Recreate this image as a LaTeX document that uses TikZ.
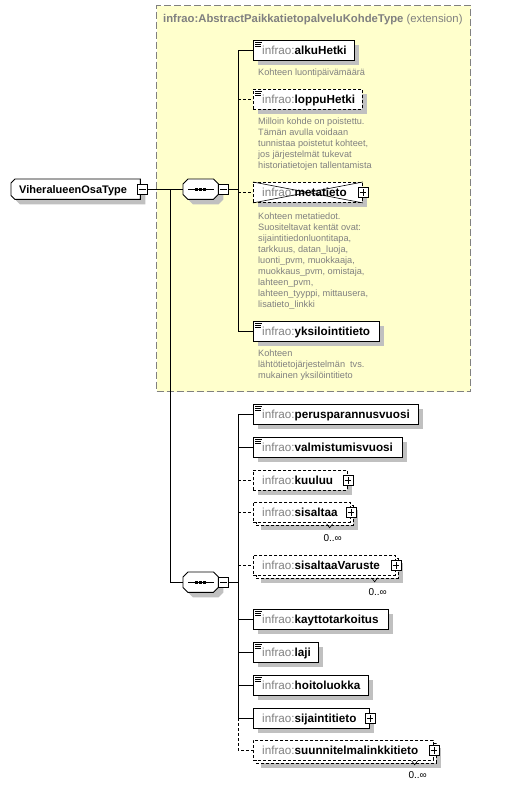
\documentclass[tikz,border=0pt]{standalone}
\usepackage{fontspec}
\setmainfont{Liberation Sans}
\usetikzlibrary{shadows,calc}
\definecolor{yel}{RGB}{255,255,204}
\definecolor{shg}{RGB}{192,192,192}
\definecolor{gtx}{RGB}{128,128,128}
\newcommand\pfx[1]{{\color{gtx}#1}}
\newcommand\nmx[1]{\textbf{#1}}
\newcommand\octpath[2]{([xshift=#2]#1.north west) -- ([xshift=-#2]#1.north east) -- ([yshift=-#2]#1.north east) -- ([yshift=#2]#1.south east) -- ([xshift=-#2]#1.south east) -- ([xshift=#2]#1.south west) -- ([yshift=#2]#1.south west) -- ([yshift=-#2]#1.north west) -- cycle}
\newcommand\simpleicon[1]{\draw[line width=0.8pt] ([xshift=2pt,yshift=-2.5pt]#1.north west) -- ++(7pt,0pt) ([xshift=2pt,yshift=-4.5pt]#1.north west) -- ++(6pt,0pt) ([xshift=2pt,yshift=-6.5pt]#1.north west) -- ++(6pt,0pt);}
\newcommand\plusicon[1]{\draw[line width=0.8pt] ([xshift=2pt]#1.west) -- ([xshift=-2pt]#1.east) ([yshift=-2pt]#1.north) -- ([yshift=2pt]#1.south);}
\newcommand\minusicon[1]{\draw[line width=0.8pt] ([xshift=2pt]#1.west) -- ([xshift=-2pt]#1.east);}
\newcommand\seqicon[1]{\draw[line width=0.9pt] ([xshift=5pt]#1.west) -- ([xshift=-4pt]#1.east);
  \foreach \dx in {-4,0,4} {\fill ([xshift=\dx pt]#1.center) ++(-1.3pt,-1.3pt) rectangle ++(2.6pt,2.6pt);}}
\tikzset{
  ebox/.style={draw=black, fill=white, line width=0.9pt, minimum height=20pt, inner sep=0pt, anchor=north west,
    general shadow={shadow xshift=5pt, shadow yshift=-5pt, fill=shg}},
  optbox/.style={ebox, dash pattern=on 3pt off 2pt},
  multibox/.style={draw=black, fill=white, line width=0.9pt, minimum height=20pt, inner sep=0pt, anchor=north west,
    dash pattern=on 3pt off 2pt,
    general shadow={shadow xshift=8pt, shadow yshift=-8pt, fill=shg},
    general shadow={shadow xshift=3pt, shadow yshift=-3pt, draw=black, fill=white, line width=0.9pt, dash pattern=on 3pt off 2pt}},
  lbl/.style={anchor=base west, inner sep=0pt, font=\fontsize{11.7}{13}\selectfont},
  mainlbl/.style={anchor=base west, inner sep=0pt, font=\fontsize{11}{13}\selectfont},
  titlelbl/.style={anchor=base west, inner sep=0pt, text=gtx, font=\fontsize{11.3}{13}\selectfont},
  desc/.style={anchor=north west, inner sep=0pt, align=left, text=gtx, font=\fontsize{9.2}{11}\selectfont},
  conn/.style={line width=0.9pt},
  dconn/.style={conn, dash pattern=on 3pt off 2pt},
  pm/.style={draw=black, fill=white, line width=0.8pt, minimum size=10pt, inner sep=0pt},
  occ/.style={inner sep=0pt, anchor=base east, font=\fontsize{10}{12}\selectfont},
  cbox/.style={inner sep=0pt, minimum height=20pt, anchor=north west},
}
\begin{document}
\begin{tikzpicture}[x=1pt,y=-1pt]
\useasboundingbox (0,0) rectangle (513,787);
\fill[white] (0,0) rectangle (513,787);
% extension box
\node[draw=gtx, fill=yel, line width=1.1pt, dash pattern=on 7pt off 3pt, inner sep=0pt, minimum width=314pt, minimum height=386pt, anchor=north west] (ext) at (156,5) {};
\node[titlelbl] (ext-t) at (163,23) {\textbf{infrao:AbstractPaikkatietopalveluKohdeType} (extension)};

% main type node
\node[cbox, minimum width=129pt] (main) at (11,179) {};
\fill[shg, transform canvas={shift={(5pt,-5pt)}}] ([xshift=4pt]main.north west) -- (main.north east) -- (main.south east) -- ([xshift=4pt]main.south west) -- ([yshift=4pt]main.south west) -- ([yshift=-4pt]main.north west) -- cycle;
\draw[fill=white, line width=0.9pt] ([xshift=4pt]main.north west) -- (main.north east) -- (main.south east) -- ([xshift=4pt]main.south west) -- ([yshift=4pt]main.south west) -- ([yshift=-4pt]main.north west) -- cycle;
\node[mainlbl] (main-t) at ([xshift=8pt,yshift=-4pt]main.west) {\textbf{ViheralueenOsaType}};
\node[pm] (main-m) at ([xshift=2pt]main.east) {};
\minusicon{main-m}

% sequence compositors
\node[cbox, minimum width=35pt] (seq1) at (183,179) {};
\node[cbox, minimum width=35pt] (seq2) at (183,572) {};
\foreach \s in {seq1,seq2} {
  \fill[shg, transform canvas={shift={(5pt,-5pt)}}] \octpath{\s}{5pt};
  \draw[fill=white, line width=0.9pt] \octpath{\s}{5pt};
  \seqicon{\s}
}
\node[pm] (seq1-m) at ([xshift=5pt]seq1.east) {};
\minusicon{seq1-m}
\node[pm] (seq2-m) at ([xshift=5pt]seq2.east) {};
\minusicon{seq2-m}

% elements of the extension
\node[ebox, minimum width=101pt] (alku) at (253,40) {};
\node[optbox, minimum width=109pt] (loppu) at (253,89) {};
\node[optbox, minimum width=109pt] (meta) at (253,182) {};
\node[ebox, minimum width=126pt] (yks) at (253,321) {};
% elements of the sequence
\node[ebox, minimum width=165pt] (perus) at (253,404) {};
\node[ebox, minimum width=149pt] (valm) at (253,437) {};
\node[optbox, minimum width=94pt] (kuu) at (253,470) {};
\node[multibox, minimum width=97pt] (sis) at (253,502) {};
\node[multibox, minimum width=142pt] (sisv) at (253,555) {};
\node[ebox, minimum width=135pt] (kayt) at (253,609) {};
\node[ebox, minimum width=65pt] (laji) at (253,642) {};
\node[ebox, minimum width=115pt] (hoito) at (253,675) {};
\node[ebox, minimum width=116pt] (sij) at (253,708) {};
\node[multibox, minimum width=180pt] (suun) at (253,740) {};

% labels
\foreach \n/\t in {alku/alkuHetki, loppu/loppuHetki, meta/metatieto, yks/yksilointitieto,
  perus/perusparannusvuosi, valm/valmistumisvuosi, kuu/kuuluu, sis/sisaltaa, sisv/sisaltaaVaruste,
  kayt/kayttotarkoitus, laji/laji, hoito/hoitoluokka, sij/sijaintitieto, suun/suunnitelmalinkkitieto} {
  \node[lbl] (\n-t) at ([xshift=9pt,yshift=-4pt]\n.west) {\pfx{infrao:}\nmx{\t}};
}
% simple content icons
\foreach \n in {alku,loppu,yks,perus,valm,kayt,laji,hoito} {\simpleicon{\n}}
% abstract cross on metatieto
\draw[line width=0.6pt] (meta.north west) -- (meta.south east) (meta.south west) -- (meta.north east);
% plus boxes
\foreach \n in {meta,kuu,sis,sisv,sij,suun} {
  \node[pm] (\n-p) at (\n.east) {};
  \plusicon{\n-p}
}
% occurrence labels
\node[occ] (sis-o) at (342,541) {0..∞};
\node[occ] (sisv-o) at (387,595) {0..∞};
\node[occ] (suun-o) at (427,778) {0..∞};
\foreach \n in {sis-o,sisv-o,suun-o} {
  \draw[line width=0.6pt] ([xshift=-6pt,yshift=10pt]\n.north) -- ([xshift=-3pt,yshift=6pt]\n.north) -- ([xshift=0pt,yshift=10pt]\n.north);
}

% descriptions
\node[desc] (alku-d) at (258,69) {Kohteen luontipäivämäärä};
\node[desc] (loppu-d) at (258,118) {Milloin kohde on poistettu.\\Tämän avulla voidaan\\tunnistaa poistetut kohteet,\\jos järjestelmät tukevat\\historiatietojen tallentamista};
\node[desc] (meta-d) at (258,213) {Kohteen metatiedot.\\Suositeltavat kentät ovat:\\sijaintitiedonluontitapa,\\tarkkuus, datan\_luoja,\\luonti\_pvm, muokkaaja,\\muokkaus\_pvm, omistaja,\\lahteen\_pvm,\\lahteen\_tyyppi, mittausera,\\lisatieto\_linkki};
\node[desc] (yks-d) at (258,350) {Kohteen\\lähtötietojärjestelmän\hspace{5pt}tvs.\\mukainen yksilöintitieto};

% connectors
\coordinate (v1) at (238,0);
\coordinate (j1) at (170,0);
\draw[conn] (main-m.east) -- (seq1.west);
\draw[conn] (j1 |- seq1.west) -- (j1 |- seq2.west) -- (seq2.west);
\draw[conn] (seq1-m.east) -- (v1 |- seq1-m.east);
\draw[conn] (v1 |- alku.west) -- (v1 |- yks.west);
\draw[conn] (v1 |- alku.west) -- (alku.west);
\draw[dconn] (v1 |- loppu.west) -- (loppu.west);
\draw[dconn] (v1 |- meta.west) -- (meta.west);
\draw[conn] (v1 |- yks.west) -- (yks.west);
\draw[conn] (seq2-m.east) -- (v1 |- seq2-m.east);
\draw[conn] (v1 |- perus.west) -- (v1 |- sij.west);
\draw[dconn] (v1 |- sij.west) -- (v1 |- suun.west) -- (suun.west);
\draw[conn] (v1 |- perus.west) -- (perus.west);
\draw[conn] (v1 |- valm.west) -- (valm.west);
\draw[dconn] (v1 |- kuu.west) -- (kuu.west);
\draw[dconn] (v1 |- sis.west) -- (sis.west);
\draw[dconn] (v1 |- sisv.west) -- (sisv.west);
\draw[conn] (v1 |- kayt.west) -- (kayt.west);
\draw[conn] (v1 |- laji.west) -- (laji.west);
\draw[conn] (v1 |- hoito.west) -- (hoito.west);
\draw[conn] (v1 |- sij.west) -- (sij.west);
\end{tikzpicture}
\end{document}
